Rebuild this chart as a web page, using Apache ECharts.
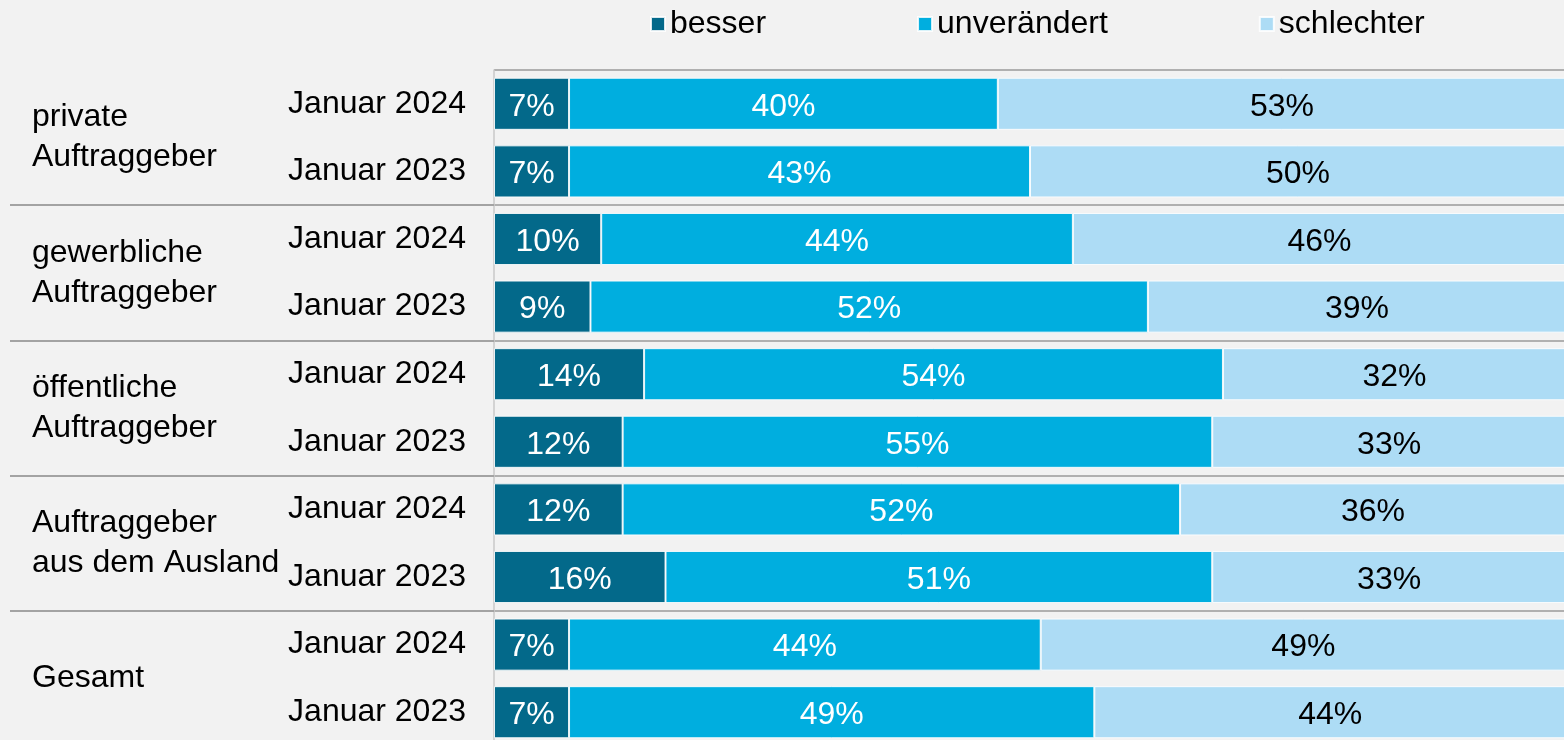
<!DOCTYPE html>
<html>
<head>
    <meta charset="utf-8">
    <title>Auftraggeber</title>
    <script src="https://cdn.jsdelivr.net/npm/echarts@6/dist/echarts.min.js"></script>
    <style>
        html, body {
            margin: 0;
            padding: 0;
            background: #f2f2f2;
        }
        #chart {
            width: 1564px;
            height: 740px;
        }
    </style>
</head>
<body>
<div id="chart"></div>
<script>
    var groups = ['private\nAuftraggeber', 'gewerbliche\nAuftraggeber', 'öffentliche\nAuftraggeber', 'Auftraggeber\naus dem Ausland', 'Gesamt'];
    var periods = ['Januar 2024', 'Januar 2023', 'Januar 2024', 'Januar 2023', 'Januar 2024', 'Januar 2023', 'Januar 2024', 'Januar 2023', 'Januar 2024', 'Januar 2023'];
    var seriesNames = ['besser', 'unverändert', 'schlechter'];
    var besser = [7, 7, 10, 9, 14, 12, 12, 16, 7, 7];
    var unveraendert = [40, 43, 44, 52, 54, 55, 52, 51, 44, 49];
    var schlechter = [53, 50, 46, 39, 32, 33, 36, 33, 49, 44];

    var font = '"Liberation Sans", Arial, sans-serif';
    var colors = ['#03698a', '#00aedf', '#addcf5'];
    var labelColors = ['#ffffff', '#ffffff', '#000000'];
    var values = [besser, unveraendert, schlechter];

    var chart = echarts.init(document.getElementById('chart'));

    var series = [];
    for (var i = 0; i < 3; i++) {
        series.push({
            name: seriesNames[i],
            type: 'bar',
            stack: 'total',
            yAxisIndex: 0,
            data: values[i],
            barCategoryGap: '23%',
            itemStyle: {
                color: colors[i],
                borderColor: 'rgba(255,255,255,0.85)',
                borderWidth: 1
            },
            label: {
                show: true,
                position: 'inside',
                offset: [0, 3],
                formatter: '{c}%',
                color: labelColors[i],
                fontFamily: font,
                fontSize: 32
            }
        });
    }

    var option = {
        backgroundColor: '#f2f2f2',
        animation: false,
        legend: {
            data: seriesNames,
            left: 645,
            top: 3,
            itemWidth: 14,
            itemHeight: 14,
            itemGap: 151,
            icon: 'rect',
            textStyle: {
                fontFamily: font,
                fontSize: 32,
                color: '#000',
                lineHeight: 32
            }
        },
        grid: {
            left: 494,
            right: -2,
            top: 70,
            bottom: -6,
            containLabel: false,
            outerBoundsMode: 'none'
        },
        xAxis: {
            type: 'value',
            min: 0,
            max: 100,
            show: false
        },
        yAxis: [{
            type: 'category',
            data: periods,
            inverse: true,
            position: 'left',
            axisLine: {show: true, lineStyle: {color: '#c8c8c8', width: 1.5}},
            axisTick: {show: false},
            splitLine: {show: false},
            axisLabel: {
                interval: 0,
                margin: 28,
                color: '#000',
                fontFamily: font,
                fontSize: 32,
                padding: [6, 0, 0, 0]
            }
        }, {
            type: 'category',
            data: groups,
            inverse: true,
            position: 'left',
            offset: 0,
            axisLine: {show: false},
            axisTick: {
                show: true,
                length: 484,
                interval: function (index) {
                    return index > 0;
                },
                lineStyle: {color: '#a3a3a3', width: 2}
            },
            splitLine: {
                show: true,
                lineStyle: {color: '#b0b0b0', width: 2}
            },
            axisLabel: {
                interval: 0,
                margin: 462,
                align: 'left',
                color: '#000',
                fontFamily: font,
                fontSize: 32,
                lineHeight: 40,
                padding: [12, 0, 0, 0]
            }
        }],
        series: series
    };

    chart.setOption(option);
</script>
</body>
</html>
